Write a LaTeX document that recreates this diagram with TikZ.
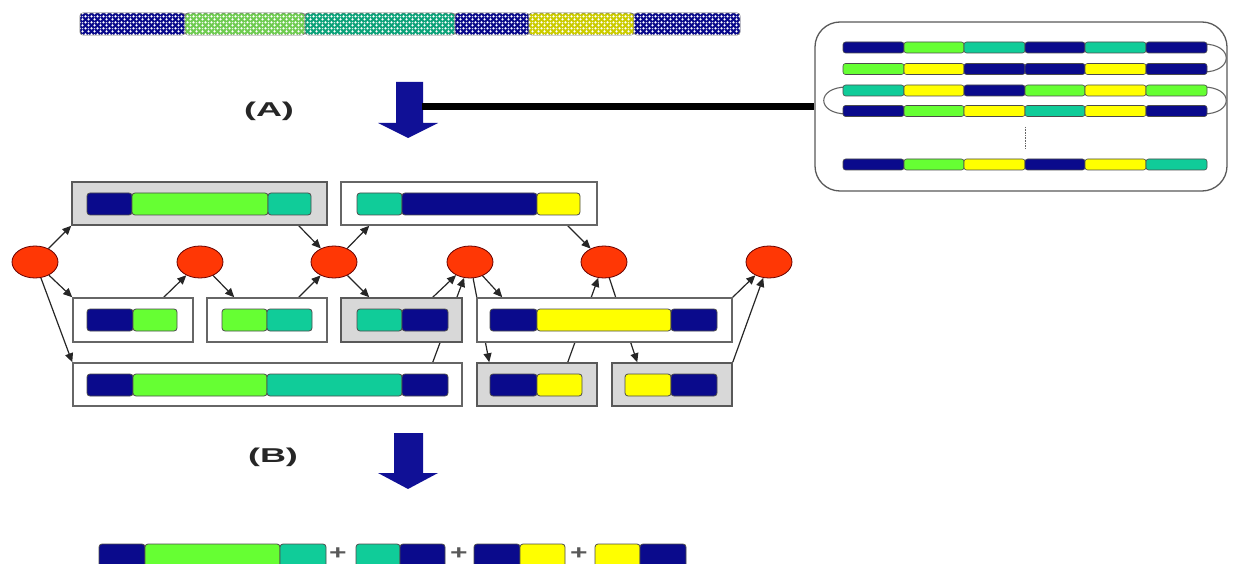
\documentclass[tikz,border=0pt]{standalone}
\usepackage{fontspec}
\setmainfont{Liberation Sans}
\usetikzlibrary{shapes.geometric,arrows.meta,patterns,backgrounds}
\definecolor{navy}{RGB}{10,10,140}
\definecolor{lgreen}{RGB}{102,255,51}
\definecolor{tealc}{RGB}{16,204,153}
\definecolor{yel}{RGB}{255,255,0}
\definecolor{redc}{RGB}{255,55,5}
\definecolor{boxgray}{RGB}{216,216,216}
\definecolor{bluearr}{RGB}{16,16,150}
\pgfdeclarepatternformonly{bigdots}{\pgfpoint{-1pt}{-1pt}}{\pgfpoint{7pt}{7pt}}{\pgfpoint{6pt}{6pt}}{%
  \pgfpathcircle{\pgfpoint{1.5pt}{1.5pt}}{1.25pt}%
  \pgfpathcircle{\pgfpoint{4.5pt}{4.5pt}}{1.25pt}%
  \pgfpathellipse{\pgfpoint{4.5pt}{1.2pt}}{\pgfpoint{0.9pt}{0pt}}{\pgfpoint{0pt}{0.6pt}}%
  \pgfusepath{fill}}
\newcommand\segbar[5]{\draw[segline,fill=#5] (#1,#3) rectangle (#2,#4);}
\newcommand\texbar[3]{\draw[segline,draw=black!55,fill=#3,postaction={pattern=bigdots,pattern color=white}] (#1,13) rectangle (#2,35);}
\begin{document}
\begin{tikzpicture}[x=1pt,y=-1pt,
  segline/.style={draw=black!70,line width=0.8pt,rounded corners=3pt},
  wbox/.style={rectangle,draw=black!60,line width=1.5pt,fill=white,inner sep=0pt},
  gbox/.style={wbox,draw=black!65,fill=boxgray},
  circ/.style={ellipse,draw=red!40!black,fill=redc,line width=0.8pt,minimum width=46pt,minimum height=32pt,inner sep=0pt},
  conn/.style={draw=black!85,line width=1.2pt,-{Triangle[length=9pt,width=8pt]}},
  lbl/.style={font=\fontsize{20}{24}\selectfont\bfseries,text=black!85,inner sep=0pt},
  plus/.style={font=\fontsize{20}{24}\selectfont\bfseries,text=black!65,inner sep=0pt},
  loopline/.style={draw=black!60,line width=1.1pt}]
\useasboundingbox (0,0) rectangle (1243,564);
\clip (0,0) rectangle (1243,564);

% textured top strip
\texbar{80}{185}{navy}
\texbar{185}{305}{lgreen!75!black!80!white}
\texbar{305}{455}{tealc!80!black}
\texbar{455}{529}{navy}
\texbar{529}{634}{yel!80!black}
\texbar{634}{740}{navy}

% labels and blue arrows
\node[lbl] (la) at (269,111) {\scalebox{1.8}[1]{(A)}};
\node[lbl] (lb) at (273,457) {\scalebox{1.8}[1]{(B)}};
\fill[bluearr] (396,82) -- (423,82) -- (423,123) -- (438,123) -- (408,138) -- (378,123) -- (396,123) -- cycle;
\coordinate (arrA) at (422,106.5);
\fill[bluearr] (394,433) -- (423,433) -- (423,473) -- (438,473) -- (408,489) -- (378,473) -- (394,473) -- cycle;

% right panel
\node[rectangle,rounded corners=25pt,draw=black!65,line width=1.3pt,fill=white,minimum width=412pt,minimum height=169pt] (panel) at (1021,106.5) {};
\draw[line width=7pt] (arrA) -- (panel.west);
\draw[loopline] (1203,44) .. controls (1234,44) and (1234,72) .. (1203,72);
\draw[loopline] (847,87) .. controls (816,87) and (816,114) .. (847,114);
\draw[loopline] (1203,87) .. controls (1234,87) and (1234,114) .. (1203,114);
\foreach \y/\a/\b/\c/\d/\e/\f in {
  47.5/navy/lgreen/tealc/navy/tealc/navy,
  69/lgreen/yel/navy/navy/yel/navy,
  90.5/tealc/yel/navy/lgreen/yel/lgreen,
  111/navy/lgreen/yel/tealc/yel/navy,
  164.5/navy/lgreen/yel/navy/yel/tealc}{
  \foreach \xa/\xb/\cc in {843/904/\a,904/964/\b,964/1025/\c,1025/1085/\d,1085/1146/\e,1146/1207/\f}{
    \draw[draw=black!70,line width=0.6pt,rounded corners=2.5pt,fill=\cc] (\xa,\y-5.5) rectangle (\xb,\y+5.5);
  }
}
\draw[black!60,line width=0.6pt,densely dotted] (1025,127) -- (1025,148);

% boxes
\node[gbox,minimum width=255pt,minimum height=43pt] (t1) at (199.5,203.5) {};
\node[wbox,minimum width=256pt,minimum height=43pt] (t2) at (469,203.5) {};
\node[wbox,minimum width=120pt,minimum height=44pt] (m1) at (133,320) {};
\node[wbox,minimum width=120pt,minimum height=44pt] (m2) at (267,320) {};
\node[gbox,minimum width=121pt,minimum height=44pt] (m3) at (401.5,320) {};
\node[wbox,minimum width=255pt,minimum height=44pt] (m4) at (604.5,320) {};
\node[wbox,minimum width=389pt,minimum height=43pt] (b1) at (267.5,384.5) {};
\node[gbox,minimum width=120pt,minimum height=43pt] (b2) at (537,384.5) {};
\node[gbox,minimum width=120pt,minimum height=43pt] (b3) at (672,384.5) {};

% strips in boxes
\segbar{87}{132}{193}{215}{navy}\segbar{132}{268}{193}{215}{lgreen}\segbar{268}{311}{193}{215}{tealc}
\segbar{357}{402}{193}{215}{tealc}\segbar{402}{537}{193}{215}{navy}\segbar{537}{580}{193}{215}{yel}
\segbar{87}{133}{309}{331}{navy}\segbar{133}{177}{309}{331}{lgreen}
\segbar{222}{267}{309}{331}{lgreen}\segbar{267}{312}{309}{331}{tealc}
\segbar{357}{402}{309}{331}{tealc}\segbar{402}{448}{309}{331}{navy}
\segbar{490}{537}{309}{331}{navy}\segbar{537}{671}{309}{331}{yel}\segbar{671}{717}{309}{331}{navy}
\segbar{87}{133}{374}{396}{navy}\segbar{133}{267}{374}{396}{lgreen}\segbar{267}{402}{374}{396}{tealc}\segbar{402}{448}{374}{396}{navy}
\segbar{490}{537}{374}{396}{navy}\segbar{537}{582}{374}{396}{yel}
\segbar{625}{671}{374}{396}{yel}\segbar{671}{717}{374}{396}{navy}

% circles
\node[circ] (c1) at (35,262) {};
\node[circ] (c2) at (200,262) {};
\node[circ] (c3) at (334,262) {};
\node[circ] (c4) at (470,262) {};
\node[circ] (c5) at (604,262) {};
\node[circ] (c6) at (769,262) {};

% connectors (behind boxes)
\begin{scope}[on background layer]
\draw[conn] (c1) -- (t1.south west);
\draw[conn] (c1) -- (m1.north west);
\draw[conn] (c1) -- (b1.north west);
\draw[conn] ([xshift=-30pt]m1.north east) -- (c2);
\draw[conn] (c2) -- ([xshift=28pt]m2.north west);
\draw[conn] ([xshift=-29pt]m2.north east) -- (c3);
\draw[conn] ([xshift=-29pt]t1.south east) -- (c3);
\draw[conn] (c3) -- ([xshift=29pt]t2.south west);
\draw[conn] (c3) -- ([xshift=29pt]m3.north west);
\draw[conn] ([xshift=-30pt]m3.north east) -- (c4);
\draw[conn] ([xshift=-30pt]b1.north east) -- (c4);
\draw[conn] (c4) -- ([xshift=26pt]m4.north west);
\draw[conn] (c4) -- ([xshift=13pt]b2.north west);
\draw[conn] ([xshift=-30pt]t2.south east) -- (c5);
\draw[conn] ([xshift=-30pt]b2.north east) -- (c5);
\draw[conn] (c5) -- ([xshift=26pt]b3.north west);
\draw[conn] (m4.north east) -- (c6);
\draw[conn] (b3.north east) -- (c6);
\end{scope}

% result row
\segbar{99}{145}{544}{567}{navy}\segbar{145}{280}{544}{567}{lgreen}\segbar{280}{326}{544}{567}{tealc}
\node[plus] (p1) at (338,554) {\scalebox{1.5}[1]{+}};
\segbar{356}{400}{544}{567}{tealc}\segbar{400}{445}{544}{567}{navy}
\node[plus] (p2) at (459,554) {\scalebox{1.5}[1]{+}};
\segbar{474}{520}{544}{567}{navy}\segbar{520}{565}{544}{567}{yel}
\node[plus] (p3) at (579,554) {\scalebox{1.5}[1]{+}};
\segbar{595}{640}{544}{567}{yel}\segbar{640}{686}{544}{567}{navy}
\end{tikzpicture}
\end{document}
